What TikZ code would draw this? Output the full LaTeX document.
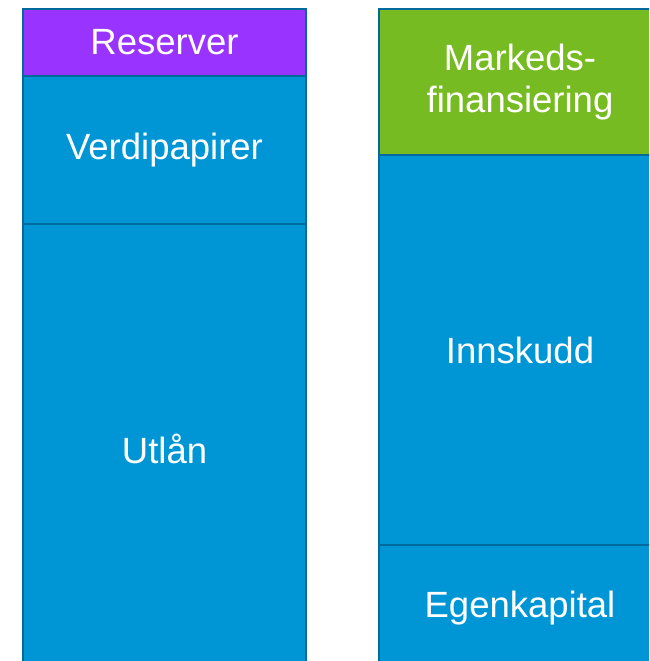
\documentclass[tikz,border=0pt]{standalone}
\usepackage{fontspec}
\setmainfont{Liberation Sans}
\usetikzlibrary{positioning}
\definecolor{balblue}{RGB}{0,150,214}
\definecolor{edgeblue}{RGB}{0,106,156}
\definecolor{respurple}{RGB}{153,51,255}
\definecolor{mktgreen}{RGB}{119,187,34}

\begin{document}
\begin{tikzpicture}[x=1pt,y=1pt]
\tikzset{block/.style={rectangle, draw=edgeblue, line width=2.5pt, fill=balblue, text=white, outer sep=0pt, inner sep=0pt, minimum width=283pt, align=center, font=\fontsize{36.5}{42}\selectfont}}
\useasboundingbox (0,0) rectangle (649,661);
\clip (0,0) rectangle (649,661);
% eiendeler
\node[block, fill=respurple, minimum height=67pt, anchor=north west] (reserver) at (23,652) {Reserver};
\node[block, minimum height=148pt, below = 0pt of reserver] (verdi) {Verdipapirer};
\node[block, minimum height=450pt, below = 0pt of verdi] (utlan) {Utlån};
% gjeld og egenkapital
\node[block, fill=mktgreen, minimum width=282pt, minimum height=146pt, anchor=north west] (marked) at (379,652) {Markeds-\\finansiering};
\node[block, minimum width=282pt, minimum height=390pt, below = 0pt of marked] (innskudd) {Innskudd};
\node[block, minimum width=282pt, minimum height=126pt, below = 0pt of innskudd] (egenkap) {Egenkapital};
\end{tikzpicture}
\end{document}
